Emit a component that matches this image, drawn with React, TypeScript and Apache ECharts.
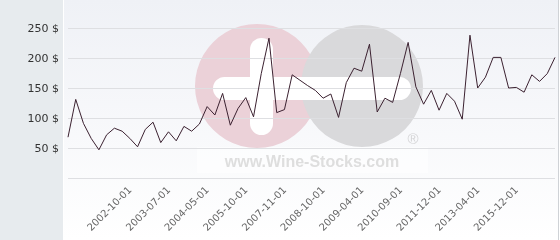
import React, { useEffect, useRef } from "react";
import * as echarts from "echarts";

const dates: string[] = [
  "2001-06-01", "2001-08-01", "2001-10-01", "2001-12-01", "2002-02-01", "2002-04-01", "2002-06-01", "2002-08-01",
  "2002-10-01", "2002-12-01", "2003-02-01", "2003-04-01", "2003-05-01",
  "2003-07-01", "2003-09-01", "2003-11-01", "2004-01-01", "2004-03-01",
  "2004-05-01", "2004-08-01", "2004-11-01", "2005-03-01", "2005-06-01",
  "2005-10-01", "2006-03-01", "2006-09-01", "2007-02-01", "2007-07-01",
  "2007-11-01", "2008-01-01", "2008-03-01", "2008-05-01", "2008-07-01",
  "2008-10-01", "2008-11-01", "2008-12-01", "2009-01-01", "2009-02-01",
  "2009-04-01", "2009-07-01", "2009-11-01", "2010-03-01", "2010-06-01",
  "2010-09-01", "2010-12-01", "2011-03-01", "2011-06-01", "2011-09-01",
  "2011-12-01", "2012-03-01", "2012-07-01", "2012-10-01", "2013-01-01",
  "2013-04-01", "2013-11-01", "2014-06-01", "2014-12-01", "2015-06-01",
  "2015-12-01", "2016-04-01", "2016-08-01", "2016-12-01", "2017-04-01", "2017-08-01",
];

const prices: number[] = [
  68, 131, 91, 66, 47, 72, 83, 78,
  66, 52, 81, 93, 59,
  77, 62, 86, 78, 90,
  119, 105, 141, 88, 116,
  134, 102, 174, 233, 109,
  114, 172, 163, 154, 146,
  133, 140, 101, 159, 183,
  178, 223, 110, 133, 126,
  174, 226, 152, 123, 146,
  113, 141, 128, 98, 238,
  150, 168, 201, 201, 150,
  151, 143, 172, 161, 174, 201,
];

const labelIndices: number[] = [8, 13, 18, 23, 28, 33, 38, 43, 48, 53, 58];

const yMin = 0;
const yMax = 250;
const yStep = 50;

export default function App() {
  const ref = useRef<HTMLDivElement>(null);

  useEffect(() => {
    if (!ref.current) return;
    const chart = echarts.init(ref.current, undefined, { renderer: "svg" });
    const font = "DejaVu Sans";
    chart.setOption({
      animation: false,
      graphic: [
        {
          type: "rect",
          z: -5,
          shape: { x: 0, y: 0, width: 63, height: 240 },
          style: { fill: "#e7ebee" },
        },
        {
          type: "rect",
          z: -5,
          shape: { x: 63, y: 0, width: 1, height: 240 },
          style: { fill: "#ffffff" },
        },
        {
          type: "rect",
          z: -5,
          shape: { x: 64, y: 0, width: 494, height: 240 },
          style: {
            fill: new echarts.graphic.LinearGradient(0, 0, 0, 1, [
              { offset: 0, color: "#eff1f6" },
              { offset: 1, color: "#ffffff" },
            ]),
          },
        },
        {
          type: "rect",
          z: -5,
          shape: { x: 558, y: 0, width: 1, height: 240 },
          style: { fill: "#cfd2d6" },
        },
        {
          type: "rect",
          z: -4,
          shape: { x: 197, y: 147, width: 231, height: 26 },
          style: { fill: "rgba(255,255,255,0.5)" },
        },
        {
          type: "circle",
          z: -4,
          shape: { cx: 257, cy: 86, r: 62 },
          style: { fill: "#ebd1d8" },
        },
        {
          type: "circle",
          z: -4,
          shape: { cx: 362, cy: 86, r: 61 },
          style: { fill: "#d9d9db" },
        },
        {
          type: "rect",
          z: -3,
          shape: { x: 213, y: 77, width: 198, height: 23, r: 11.5 },
          style: { fill: "#ffffff" },
        },
        {
          type: "rect",
          z: -3,
          shape: { x: 250, y: 38, width: 23, height: 97, r: 11.5 },
          style: { fill: "#ffffff" },
        },
        {
          type: "text",
          z: -3,
          style: {
            text: "www.Wine-Stocks.com",
            x: 312,
            y: 161,
            align: "center",
            verticalAlign: "middle",
            textAlign: "center",
            textVerticalAlign: "middle",
            fill: "#dedede",
            fontSize: 16,
            fontWeight: "bold",
            fontFamily: "Liberation Sans",
          },
        },
        {
          type: "text",
          z: -3,
          style: {
            text: "®",
            x: 413,
            y: 138,
            align: "center",
            verticalAlign: "middle",
            textAlign: "center",
            textVerticalAlign: "middle",
            fill: "#d4d4d6",
            fontSize: 15,
            fontFamily: "Liberation Sans",
          },
        },
      ],
      grid: { left: 68, right: 5, top: 28, bottom: 62 },
      xAxis: {
        type: "category",
        data: dates,
        boundaryGap: false,
        axisLine: { show: false },
        axisTick: { show: false },
        splitLine: { show: false },
        axisLabel: {
          rotate: 45,
          margin: 10,
          interval: (index: number) => labelIndices.indexOf(index) >= 0,
          color: "#666666",
          fontSize: 10,
          fontFamily: font,
        },
      },
      yAxis: {
        type: "value",
        min: yMin,
        max: yMax,
        interval: yStep,
        axisLine: { show: false },
        axisTick: { show: false },
        splitLine: { lineStyle: { color: "#dedfe2", width: 1 } },
        axisLabel: {
          margin: 9,
          color: "#333333",
          fontSize: 11,
          fontFamily: font,
          formatter: (v: number) => (v === 0 ? "" : `${v} $`),
        },
      },
      series: [
        {
          type: "line",
          data: prices,
          showSymbol: false,
          lineStyle: { color: "#3b2130", width: 1 },
          itemStyle: { color: "#3b2130" },
        },
      ],
    });
    return () => chart.dispose();
  }, []);

  return (
    <div
      ref={ref}
      style={{ position: "fixed", left: 0, top: 0, width: 560, height: 240 }}
    />
  );
}
